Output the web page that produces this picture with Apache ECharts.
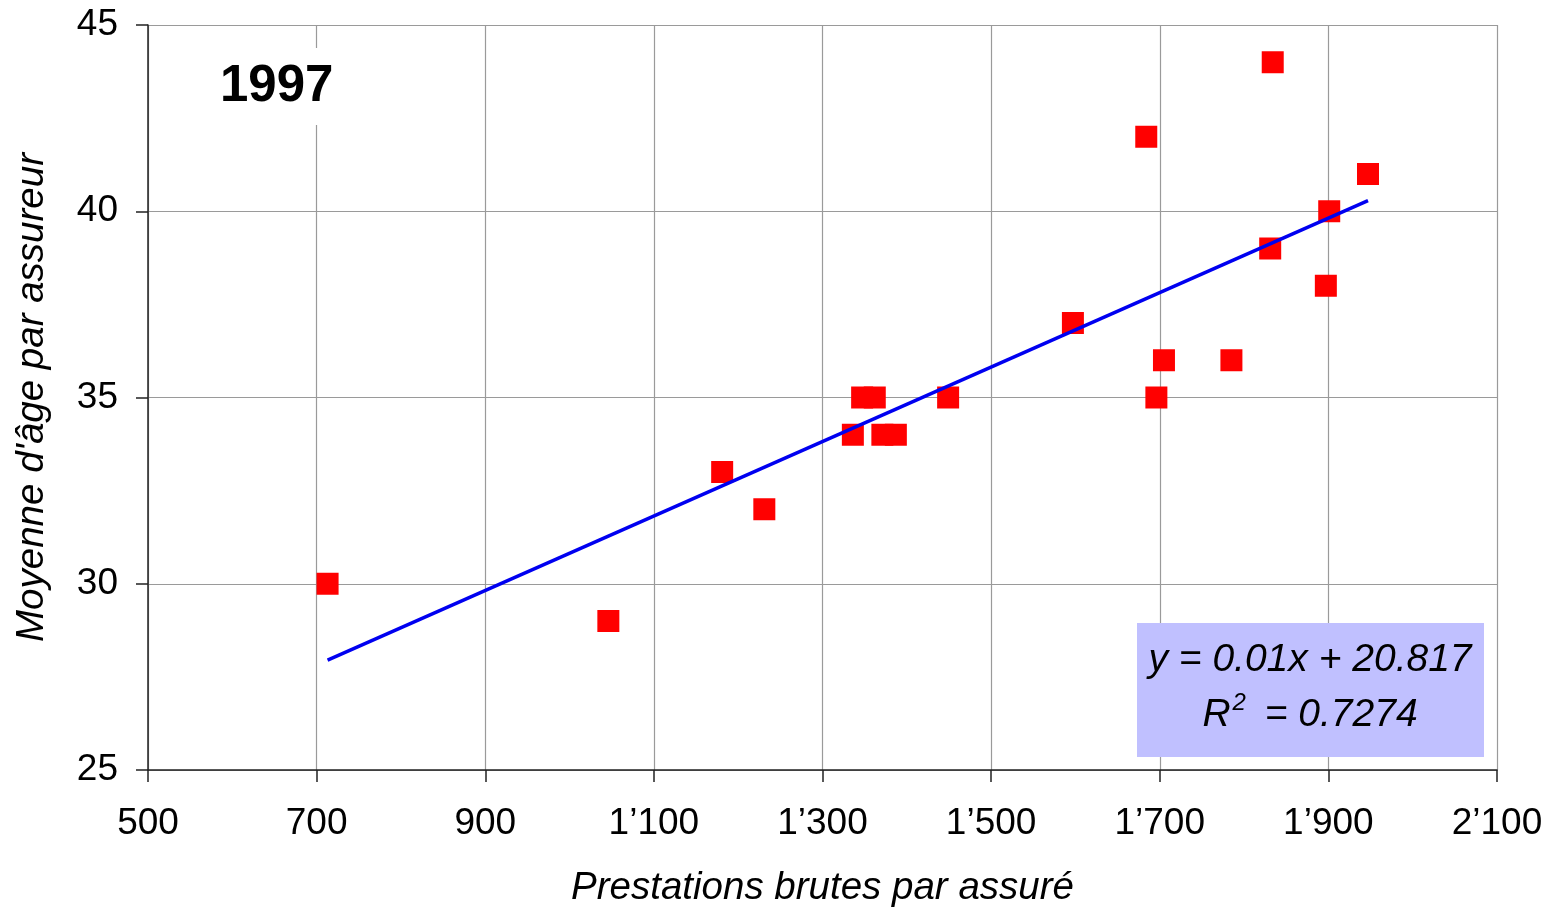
<!DOCTYPE html>
<html>
<head>
<meta charset="utf-8">
<script src="https://cdn.jsdelivr.net/npm/echarts@6/dist/echarts.min.js"></script>
<style>
  html, body { margin: 0; padding: 0; background: #fff; }
  #chart { width: 1549px; height: 909px; }
</style>
</head>
<body>
<div id="chart"></div>
<script>
// prestations brutes par assuré (x) / moyenne d'âge par assureur (y)
var prestations = [713, 1046, 1181, 1231, 1336, 1347, 1362, 1371, 1387, 1449,
                   1597, 1684, 1696, 1705, 1785, 1831, 1834, 1897, 1901, 1947];
var ages = [30, 29, 33, 32, 34, 35, 35, 34, 34, 35,
            37, 42, 35, 36, 36, 39, 44, 38, 40, 41];
// regression shown on the chart
var slope = 0.01, intercept = 20.817, r2 = 0.7274;
var yearLabel = '1997';

var points = prestations.map(function (x, i) { return [x, ages[i]]; });
var xMin = Math.min.apply(null, prestations);
var xMax = Math.max.apply(null, prestations);
var trend = [[xMin, slope * xMin + intercept], [xMax, slope * xMax + intercept]];

var font = '"Liberation Sans", Arial, sans-serif';

function fmtThousands(v) {
  var s = String(v);
  if (s.length > 3) s = s.slice(0, s.length - 3) + '\u2019' + s.slice(-3);
  return s;
}

var chart = echarts.init(document.getElementById('chart'));
var option = {
  animation: false,
  backgroundColor: '#fff',
  textStyle: { fontFamily: font },
  grid: { left: 148, right: 52, top: 25, bottom: 139, outerBoundsMode: 'none' },
  xAxis: {
    type: 'value',
    min: 500, max: 2100, interval: 200,
    name: 'Prestations brutes par assuré',
    nameLocation: 'middle',
    nameGap: 99,
    nameTextStyle: { fontSize: 38.5, fontStyle: 'italic', color: '#000', fontFamily: font },
    axisLine: { lineStyle: { color: '#222', width: 1.5 } },
    axisTick: { show: true, length: 12, lineStyle: { color: '#222', width: 1.5 } },
    axisLabel: { fontSize: 37, color: '#000', margin: 35, formatter: fmtThousands },
    splitLine: { show: true, lineStyle: { color: '#9a9a9a', width: 1.2 } }
  },
  yAxis: {
    type: 'value',
    min: 25, max: 45, interval: 5,
    name: "Moyenne d'âge par assureur",
    nameLocation: 'middle',
    nameGap: 96,
    nameTextStyle: { fontSize: 38.5, fontStyle: 'italic', color: '#000', fontFamily: font },
    axisLine: { show: true, lineStyle: { color: '#222', width: 1.5 } },
    axisTick: { show: true, length: 12, lineStyle: { color: '#222', width: 1.5 } },
    axisLabel: { fontSize: 37, color: '#000', margin: 30 },
    splitLine: { show: true, lineStyle: { color: '#9a9a9a', width: 1.2 } }
  },
  series: [
    {
      type: 'scatter',
      data: points,
      symbol: 'rect',
      symbolSize: 22,
      itemStyle: { color: '#ff0000', opacity: 1 },
      z: 2
    },
    {
      type: 'line',
      data: trend,
      symbol: 'none',
      lineStyle: { color: '#0000f0', width: 3.5 },
      z: 3
    }
  ],
  graphic: [
    {
      type: 'text',
      left: 218, top: 48,
      z: 10,
      style: {
        text: yearLabel,
        font: 'bold 51px ' + font,
        fill: '#000',
        backgroundColor: '#fff',
        padding: [13, 2, 13, 2]
      }
    },
    {
      type: 'rect',
      z: 10,
      shape: { x: 1137, y: 623, width: 347, height: 134 },
      style: { fill: '#c0c0ff' }
    },
    {
      type: 'text',
      z: 11,
      x: 1310, y: 660,
      style: {
        text: 'y = ' + slope + 'x + ' + intercept,
        font: 'italic 39px ' + font,
        fill: '#000',
        align: 'center',
        verticalAlign: 'middle'
      }
    },
    {
      type: 'text',
      z: 11,
      x: 1310, y: 715,
      style: {
        text: '{a|R}{s|2}{a| = ' + r2 + '}',
        align: 'center',
        verticalAlign: 'middle',
        rich: {
          a: { font: 'italic 39px ' + font, fill: '#000', lineHeight: 44 },
          s: { font: 'italic 24px ' + font, fill: '#000', lineHeight: 44, padding: [0, 8, 24, 2] }
        }
      }
    }
  ]
};
chart.setOption(option);
</script>
</body>
</html>
